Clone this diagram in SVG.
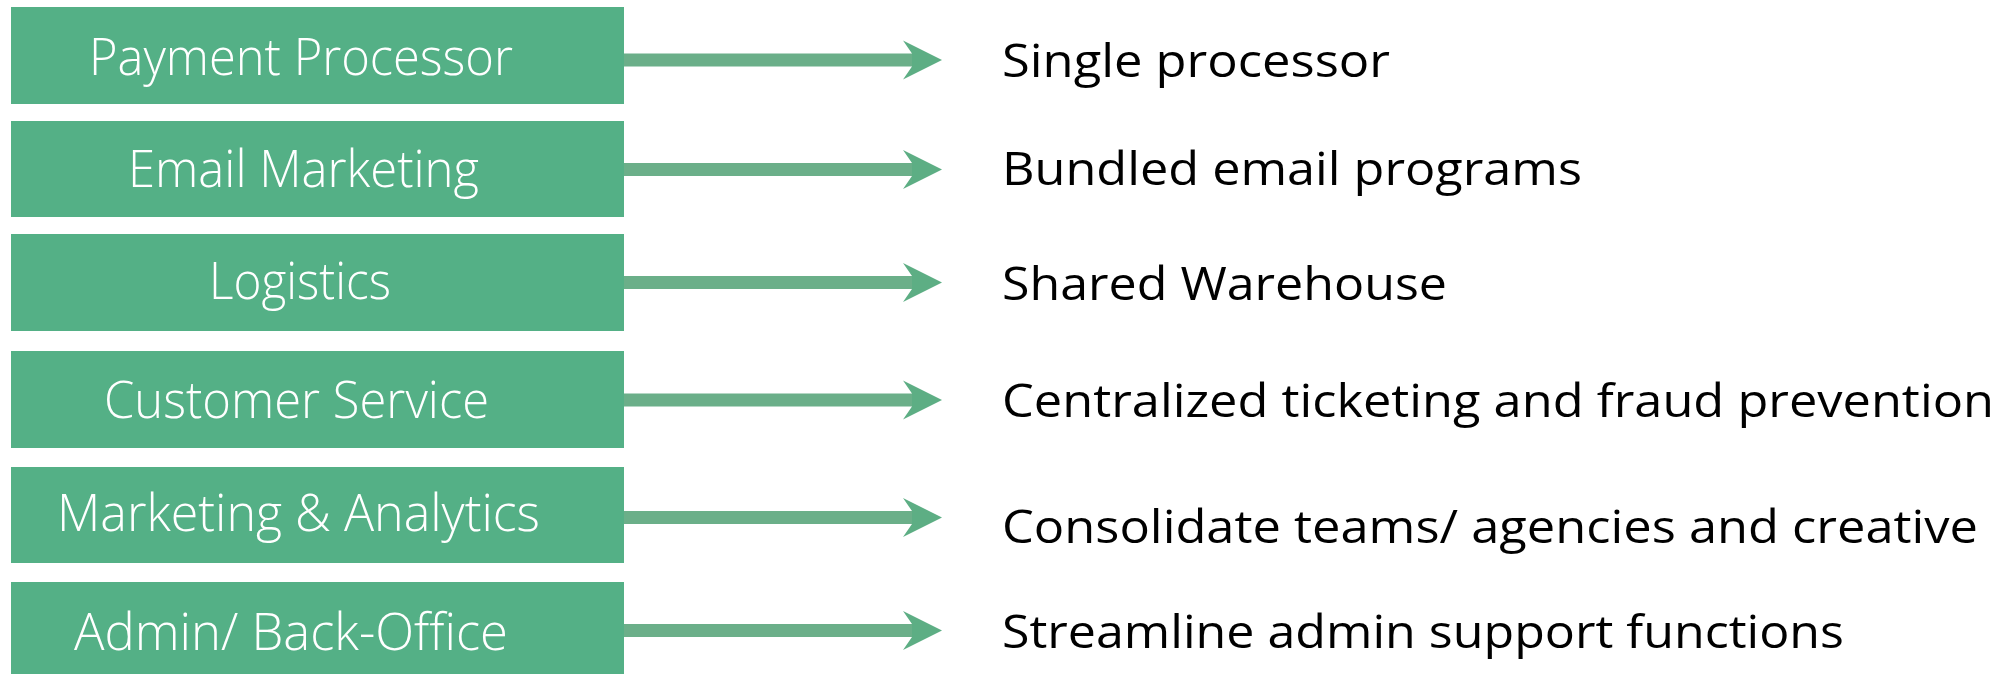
<svg xmlns="http://www.w3.org/2000/svg" width="1997" height="674" viewBox="0 0 1997 674">
<style>
.box{fill:#54B086}
.lt{font-family:"Open Sans","Segoe UI","Noto Sans",sans-serif;font-weight:300;font-size:52px;fill:#FFFFFF}
.rt{font-family:"Open Sans","Segoe UI","Noto Sans",sans-serif;font-weight:400;font-size:46px;fill:#000000}
.shaft{fill:#6BAF89}
.head{fill:#5DAE84}
</style>
<defs>
<g id="arrow">
<rect class="shaft" x="624" y="-6.5" width="289" height="13"/>
<polygon class="head" points="903,-19.5 942,0 903,19.5 912,6.5 912,-6.5"/>
</g>
</defs>
<rect width="1997" height="674" fill="#FFFFFF"/>
<g id="connectors">
<use href="#arrow" transform="translate(0,60)"/>
<use href="#arrow" transform="translate(0,169.5)"/>
<use href="#arrow" transform="translate(0,282.5)"/>
<use href="#arrow" transform="translate(0,400)"/>
<use href="#arrow" transform="translate(0,517.5)"/>
<use href="#arrow" transform="translate(0,630.5)"/>
</g>
<g id="node-payment">
<rect class="box" x="11" y="7" width="613" height="97"/>
<text class="lt" x="89" y="75" textLength="424" lengthAdjust="spacingAndGlyphs">Payment Processor</text>
</g>
<g id="node-email">
<rect class="box" x="11" y="121" width="613" height="96"/>
<text class="lt" x="128" y="186.7" textLength="351" lengthAdjust="spacingAndGlyphs">Email Marketing</text>
</g>
<g id="node-logistics">
<rect class="box" x="11" y="234" width="613" height="97"/>
<text class="lt" x="209" y="298.7" textLength="182" lengthAdjust="spacingAndGlyphs">Logistics</text>
</g>
<g id="node-customer">
<rect class="box" x="11" y="351" width="613" height="97"/>
<text class="lt" x="104" y="418" textLength="385" lengthAdjust="spacingAndGlyphs">Customer Service</text>
</g>
<g id="node-marketing">
<rect class="box" x="11" y="467" width="613" height="96"/>
<text class="lt" x="57" y="530.7" textLength="483" lengthAdjust="spacingAndGlyphs">Marketing &amp; Analytics</text>
</g>
<g id="node-admin">
<rect class="box" x="11" y="582" width="613" height="92"/>
<text class="lt" x="74" y="650" textLength="434" lengthAdjust="spacingAndGlyphs">Admin/ Back-Office</text>
</g>
<g id="result-1"><text class="rt" x="1002" y="76.7" textLength="388" lengthAdjust="spacingAndGlyphs">Single processor</text></g>
<g id="result-2"><text class="rt" x="1002" y="185" textLength="580" lengthAdjust="spacingAndGlyphs">Bundled email programs</text></g>
<g id="result-3"><text class="rt" x="1002" y="300" textLength="445" lengthAdjust="spacingAndGlyphs">Shared Warehouse</text></g>
<g id="result-4"><text class="rt" x="1002" y="417.3" textLength="992" lengthAdjust="spacingAndGlyphs">Centralized ticketing and fraud prevention</text></g>
<g id="result-5"><text class="rt" x="1002" y="543" textLength="976" lengthAdjust="spacingAndGlyphs">Consolidate teams/ agencies and creative</text></g>
<g id="result-6"><text class="rt" x="1002" y="648" textLength="842" lengthAdjust="spacingAndGlyphs">Streamline admin support functions</text></g>
</svg>
